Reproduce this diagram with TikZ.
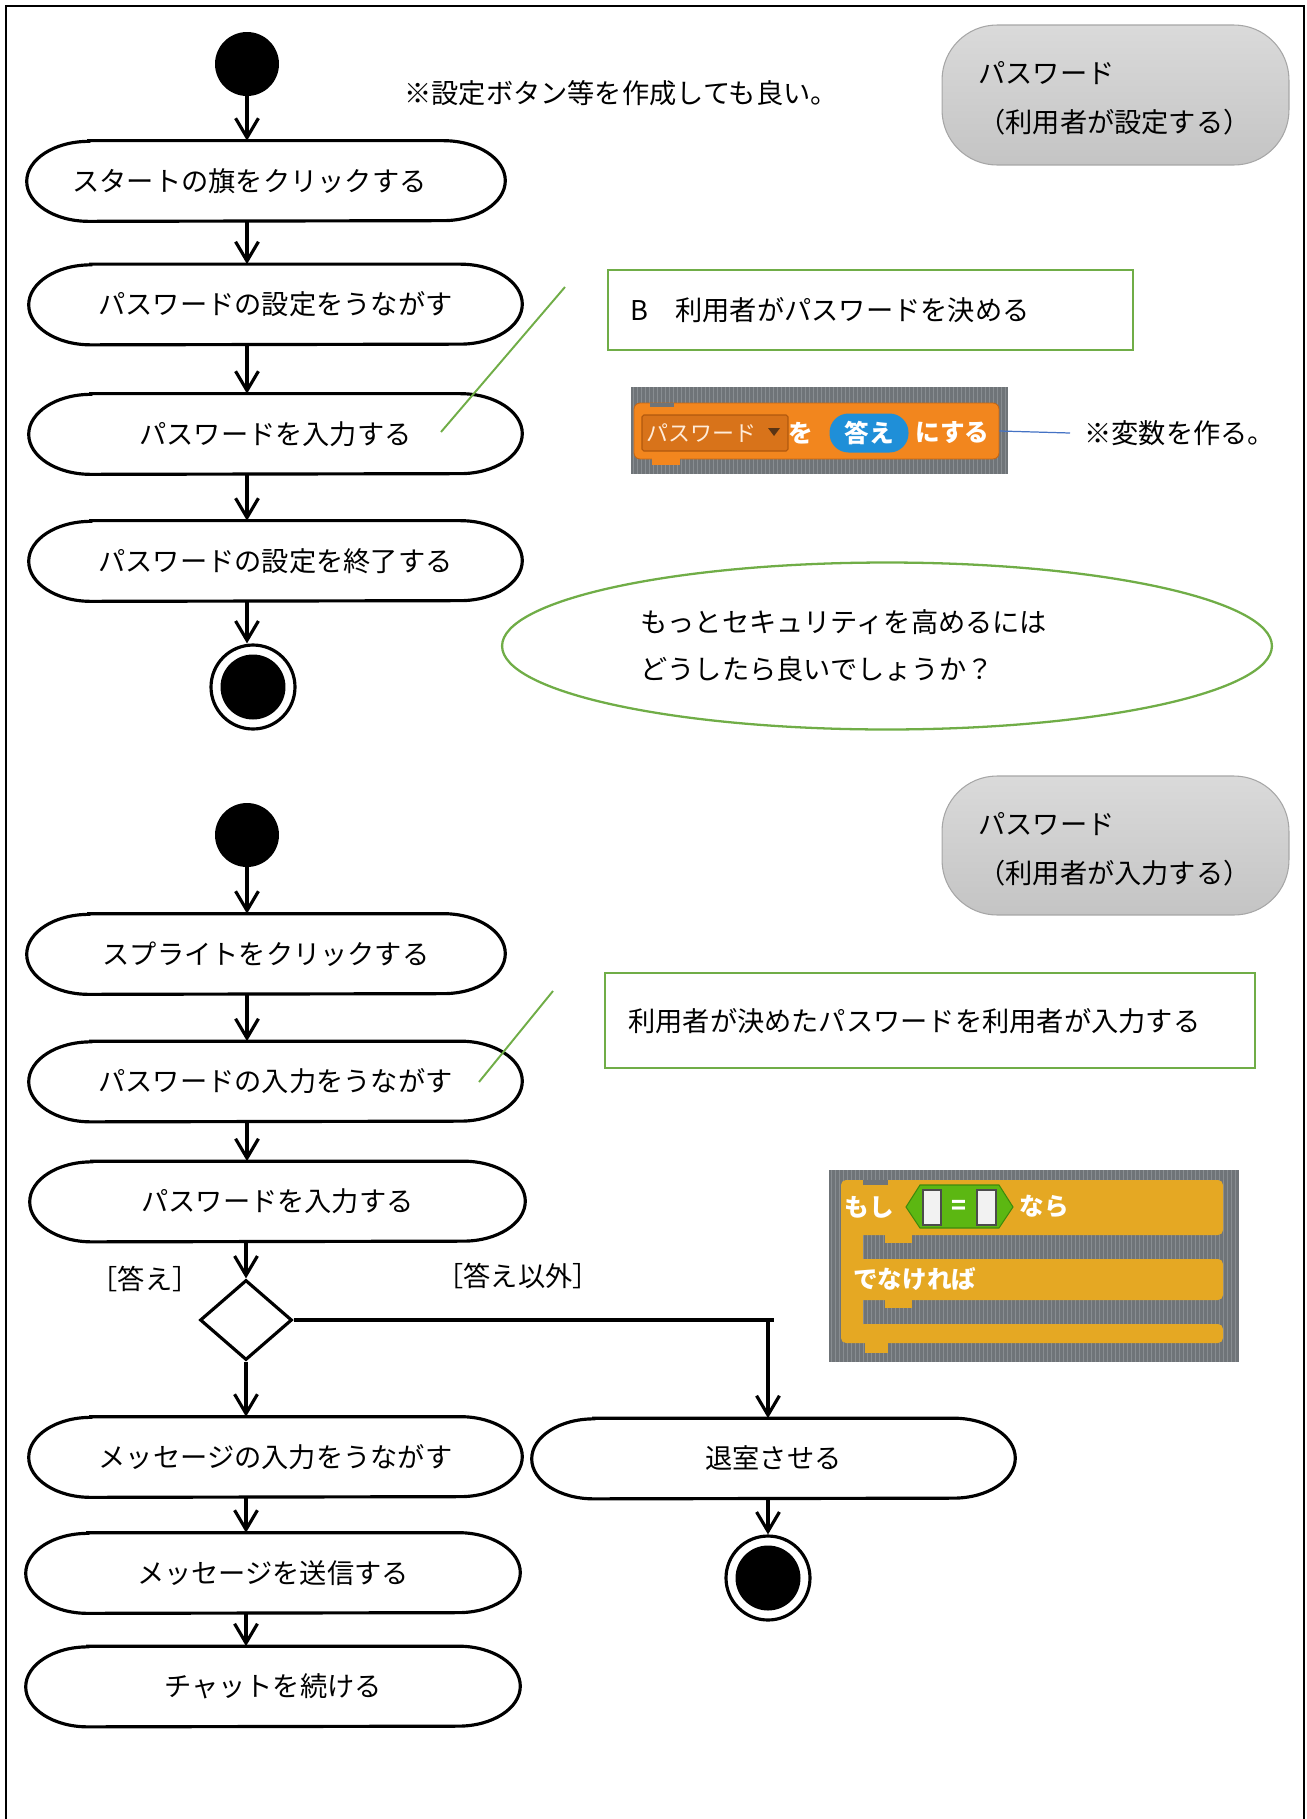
\documentclass[tikz,border=0pt]{standalone}
\usepackage{fontspec}
\setmainfont{Noto Sans CJK JP}
\usetikzlibrary{arrows.meta,shapes.geometric,calc}
\definecolor{grn}{HTML}{70AD47}
\definecolor{bline}{HTML}{4472C4}
\definecolor{boxtop}{HTML}{DADADA}
\definecolor{boxbot}{HTML}{C4C4C4}
\definecolor{boxedge}{HTML}{A6A6A6}
\definecolor{scgray}{HTML}{6F7478}
\definecolor{scstripe}{HTML}{888D91}
\definecolor{scorange}{HTML}{F2861E}
\definecolor{ddfill}{HTML}{D8731A}
\definecolor{ddborder}{HTML}{B0580E}
\definecolor{ddtri}{HTML}{5A3414}
\definecolor{scblue}{HTML}{1F8FD8}
\definecolor{scctrl}{HTML}{E5A823}
\definecolor{scgreen}{HTML}{5CB712}
\definecolor{scgreendk}{HTML}{3E8A0C}
\newcommand\jp{\fontsize{15.5pt}{20pt}\selectfont}
\newcommand\scrfont{\fontsize{14pt}{16pt}\selectfont\bfseries}
\tikzset{
  txt/.style={inner sep=0pt, font=\jp},
  actbox/.style={minimum height=1.6cm, inner sep=0pt, font=\jp},
  actline/.style={line width=1.8pt},
  arr/.style={line width=1.8pt, -{Straight Barb[length=11pt,width=13pt]}},
  flow/.style={line width=1.8pt},
  frame/.style={line width=1.4pt},
  startdot/.style={circle, fill=black, minimum size=1.28cm, inner sep=0pt},
  endring/.style={circle, draw=black, fill=white, line width=1.8pt, minimum size=1.68cm, inner sep=0pt},
  enddot/.style={circle, fill=black, minimum size=1.3cm, inner sep=0pt},
  decision/.style={diamond, draw=black, line width=1.8pt, minimum width=1.84cm, minimum height=1.6cm, inner sep=0pt},
  graybox/.style={draw=boxedge, line width=0.6pt, top color=boxtop, bottom color=boxbot, rounded corners=1.1cm, inner sep=0pt},
  greenbox/.style={draw=grn, line width=1.3pt, inner sep=0pt},
  callout/.style={draw=grn, line width=1.1pt},
  scw/.style={inner sep=0pt, text=white, font=\scrfont},
}
\newcommand\actnode[5]{%
  \node[actbox, minimum width=#4] (#1) at (#2,#3) {#5};
  \draw[actline] ($(#1.north west)+(62,0)$) -- ($(#1.north east)+(-62,0)$)
     arc[start angle=90, end angle=-90, x radius=1.24cm, y radius=0.8cm]
     -- ($(#1.south west)+(62,0)$)
     arc[start angle=270, end angle=90, x radius=1.24cm, y radius=0.8cm] -- cycle;
}
\begin{document}
\begin{tikzpicture}[x=0.02cm,y=-0.02cm]
\useasboundingbox (0,0) rectangle (1306,1819);
\draw[frame] (6,1819) -- (6,6) -- (1304,6) -- (1304,1819);

% ---------- top flow ----------
\node[startdot] (s1) at (247,64) {};
\actnode{n1}{266}{181}{9.56cm}{スタートの旗をクリックする\hspace*{0.66cm}}
\actnode{n2}{275.5}{304.5}{9.86cm}{パスワードの設定をうながす}
\actnode{n3}{275.5}{434}{9.86cm}{パスワードを入力する}
\actnode{n4}{275.5}{561}{9.86cm}{パスワードの設定を終了する}
\node[endring] (e1) at (253,687) {};
\node[enddot] (e1i) at (e1.center) {};
\draw[arr] (s1.south) -- (n1.north -| s1);
\draw[arr] (n1.south -| s1) -- (n2.north -| s1);
\draw[arr] (n2.south -| s1) -- (n3.north -| s1);
\draw[arr] (n3.south -| s1) -- (n4.north -| s1);
\draw[arr] (n4.south -| s1) -- (e1.north -| s1);

\node[txt, anchor=west] (note1) at (404,93) {※設定ボタン等を作成しても良い。};

\node[graybox, minimum width=6.94cm, minimum height=2.8cm] (g1) at (1115.5,95) {};
\node[inner sep=0pt, anchor=west, align=left, font={\fontsize{15.5pt}{27.8pt}\selectfont}] (g1t) at (978,98.5) {パスワード\\（利用者が設定する）};

\node[greenbox, minimum width=10.5cm, minimum height=1.6cm] (r1) at (870.5,310) {};
\node[txt, anchor=west] (r1t) at (630,310) {B　利用者がパスワードを決める};
\coordinate (c1a) at (565,287);
\coordinate (c1b) at (441,432);
\draw[callout] (c1a) -- (c1b);

% scratch block 1
\fill[scgray] (631,387) rectangle (1008,474);
\foreach \x in {633,637,...,1006} \draw[scstripe, line width=0.5pt] (\x,387) -- (\x,474);
\node[fill=scorange, draw=ddborder!70!scorange, line width=0.5pt, rounded corners=0.12cm, minimum width=7.3cm, minimum height=1.12cm, inner sep=0pt] (blk1) at (816.5,431) {};
\fill[scorange] (652,457) rectangle (680,465);
\fill[scgray] (650,403) rectangle (674,407);
\node[fill=ddfill, draw=ddborder, line width=0.6pt, rounded corners=1pt, minimum width=2.92cm, minimum height=0.72cm, inner sep=0pt] (dd) at (715,433) {};
\node[inner sep=0pt, anchor=west, text=orange!15!white, font=\fontsize{12.5pt}{14pt}\selectfont] (ddt) at (646,433) {パスワード};
\fill[ddtri] (768,428) -- (780,428) -- (774,436) -- cycle;
\node[scw] (wo) at (801,433) {を};
\node[scw, fill=scblue, rounded corners=0.38cm, minimum width=1.58cm, minimum height=0.78cm] (ans) at (869,433) {答え};
\node[scw, anchor=west] (nisuru) at (915,433) {にする};
\node[txt, anchor=west] (hensu) at (1084,433) {※変数を作る。};
\draw[bline, line width=0.7pt] (blk1.east) -- ($(hensu.west)+(-14,0)$);

% question ellipse
\node[ellipse, draw=grn, line width=1.3pt, minimum width=15.4cm, minimum height=3.34cm, inner sep=0pt] (q) at (887,646) {};
\node[inner sep=0pt, anchor=west, align=left, font={\fontsize{15.5pt}{26.6pt}\selectfont}] (qt) at (640,645.5) {もっとセキュリティを高めるには\\どうしたら良いでしょうか？};

% ---------- bottom flow ----------
\node[startdot] (s2) at (247,835) {};
\actnode{b1}{266}{954}{9.56cm}{スプライトをクリックする}
\actnode{b2}{275.5}{1081.5}{9.86cm}{パスワードの入力をうながす}
\actnode{b3}{277.5}{1201.5}{9.9cm}{パスワードを入力する}
\node[decision] (dec) at (246,1320) {};
\actnode{b4}{275.5}{1457}{9.86cm}{メッセージの入力をうながす}
\actnode{b5}{773.5}{1458.5}{9.66cm}{退室させる}
\node[endring] (e2) at (768,1578) {};
\node[enddot] (e2i) at (e2.center) {};
\actnode{b6}{273}{1573}{9.88cm}{メッセージを送信する}
\actnode{b7}{273}{1686.5}{9.88cm}{チャットを続ける}

\draw[arr] (s2.south) -- (b1.north -| s2);
\draw[arr] (b1.south -| s2) -- (b2.north -| s2);
\draw[arr] (b2.south -| s2) -- (b3.north -| s2);
\draw[arr] (b3.south -| dec) -- (dec.north);
\draw[arr] (dec.south) -- (b4.north -| dec);
\draw[arr] (b4.south -| dec) -- (b6.north -| dec);
\draw[arr] (b6.south -| dec) -- (b7.north -| dec);
\coordinate (jr) at (774,1320);
\coordinate (jv) at (768,1320);
\draw[flow] (dec.east) -- (jr);
\draw[arr] (jv) -- (b5.north -| jv);
\draw[arr] (b5.south -| e2) -- (e2.north);

\node[txt] (lab1) at (145,1279) {［答え］};
\node[txt] (lab2) at (518,1276) {［答え以外］};

\node[graybox, minimum width=6.94cm, minimum height=2.78cm] (g2) at (1115.5,845.5) {};
\node[inner sep=0pt, anchor=west, align=left, font={\fontsize{15.5pt}{27.8pt}\selectfont}] (g2t) at (978,849.5) {パスワード\\（利用者が入力する）};

\node[greenbox, minimum width=13cm, minimum height=1.9cm] (r2) at (930,1020.5) {};
\node[txt, anchor=west] (r2t) at (628,1021) {利用者が決めたパスワードを利用者が入力する};
\coordinate (c2a) at (553,991);
\coordinate (c2b) at (479,1082);
\draw[callout] (c2a) -- (c2b);

% scratch block 2 (if / else)
\fill[scgray] (829,1170) rectangle (1239,1362);
\foreach \x in {831,835,...,1237} \draw[scstripe, line width=0.5pt] (\x,1170) -- (\x,1362);
\fill[scctrl, rounded corners=0.1cm] (841,1180) rectangle (1223,1235);
\fill[scctrl, rounded corners=0.1cm] (841,1259) rectangle (1223,1300);
\fill[scctrl, rounded corners=0.1cm] (841,1324) rectangle (1223,1343);
\fill[scctrl] (841,1190) rectangle (863,1335);
\fill[scctrl] (885,1233) rectangle (912,1243);
\fill[scctrl] (885,1298) rectangle (912,1308);
\fill[scctrl] (865,1341) rectangle (888,1353);
\fill[scgray] (863,1180) rectangle (888,1185);
\filldraw[fill=scgreen, draw=scgreendk, line width=0.6pt] (906,1207) -- (920,1185) -- (999,1185) -- (1013,1207) -- (999,1228) -- (920,1228) -- cycle;
\filldraw[fill=black!5, draw=black!70, line width=0.6pt] (923,1190) rectangle (941,1225);
\filldraw[fill=black!5, draw=black!70, line width=0.6pt] (977,1190) rectangle (996,1225);
\node[scw] (eq) at (959,1207) {=};
\node[scw] (moshi) at (869,1207) {もし};
\node[scw] (nara) at (1044,1207) {なら};
\node[scw, anchor=west] (denake) at (853,1279) {でなければ};
\end{tikzpicture}
\end{document}
